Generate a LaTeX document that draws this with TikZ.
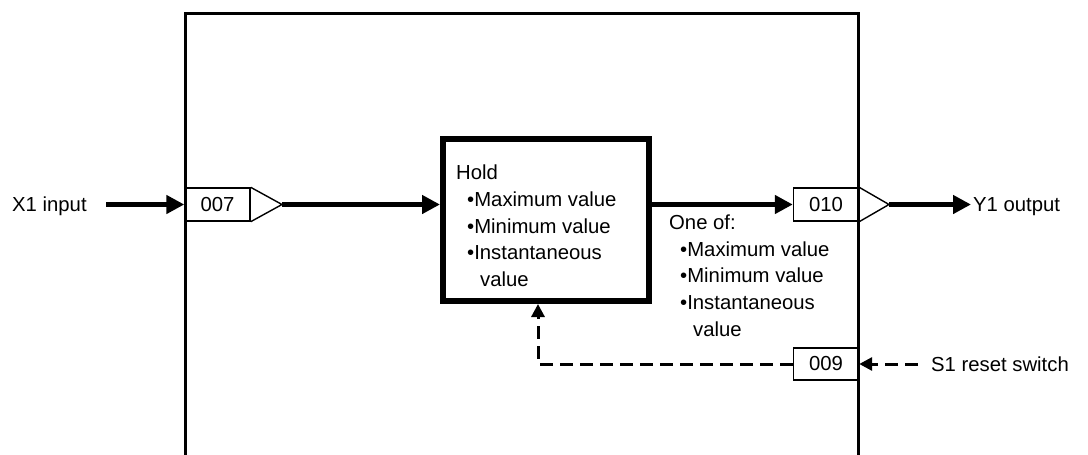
\documentclass[tikz,border=0pt]{standalone}
\usepackage{fontspec}
\setmainfont{Liberation Sans}
\usetikzlibrary{arrows.meta}
\begin{document}
\begin{tikzpicture}[x=1pt,y=-1pt,
  txt/.style={font=\fontsize{20.3}{24}\selectfont, inner sep=0pt, anchor=base west},
  numbox/.style={draw, line width=1.4pt, minimum width=65pt, minimum height=33pt, inner sep=0pt, font=\fontsize{20.3}{24}\selectfont},
  thick arrow/.style={line width=5pt, -{Triangle[length=18pt,width=18pt]}},
  dash arrow/.style={line width=3pt, dash pattern=on 13pt off 7pt, -{Triangle[length=13pt,width=13pt]}},
  tri/.style={line width=1.4pt}
]
\useasboundingbox (0,0) rectangle (1088,455);
\fill[white] (0,0) rectangle (1088,455);
% outer frame (open at bottom)
\draw[line width=3pt] (185,460) -- (185,13) -- (858,13) -- (858,460);

% input side
\node[txt] (x1) at (12,211) {X1 input};
\node[numbox] (b007) at (217.5,204.5) {007};
\coordinate (a007) at (282,204.5);
\draw[tri] (b007.north east) -- (a007) -- (b007.south east);
\coordinate (x1start) at (106,204.5);
\draw[thick arrow] (x1start) -- (b007.west);

% hold box
\node[draw, line width=6pt, minimum width=206pt, minimum height=162pt, inner sep=0pt] (hold) at (546,220) {};
\node[txt] (h0) at (456,179.5) {Hold};
\node[txt] (h1) at (467,206.5) {•Maximum value};
\node[txt] (h2) at (467,233) {•Minimum value};
\node[txt] (h3) at (467,259.5) {•Instantaneous};
\node[txt] (h4) at (480,286) {value};
\draw[thick arrow] (a007) -- (a007 -| hold.west);

% output side
\node[numbox] (b010) at (826,204.5) {010};
\coordinate (a010) at (889,204.5);
\draw[tri] (b010.north east) -- (a010) -- (b010.south east);
\draw[thick arrow] (a010 -| hold.east) -- (b010.west);
\node[txt] (y1) at (973,211) {Y1 output};
\coordinate (y1end) at (971,204.5);
\draw[thick arrow] (a010) -- (y1end);

\node[txt] (o0) at (669,229.5) {One of:};
\node[txt] (o1) at (680,256) {•Maximum value};
\node[txt] (o2) at (680,282.5) {•Minimum value};
\node[txt] (o3) at (680,309.5) {•Instantaneous};
\node[txt] (o4) at (693,336) {value};

% reset
\node[numbox, minimum height=32pt] (b009) at (826,364) {009};
\coordinate (corner) at (538,364);
\draw[dash arrow] (b009.west) -- (corner) -- (corner |- hold.south);
\node[txt] (s1) at (931,371) {S1 reset switch};
\coordinate (s1start) at (918,364);
\draw[dash arrow] (s1start) -- (b009.east);
\end{tikzpicture}
\end{document}
